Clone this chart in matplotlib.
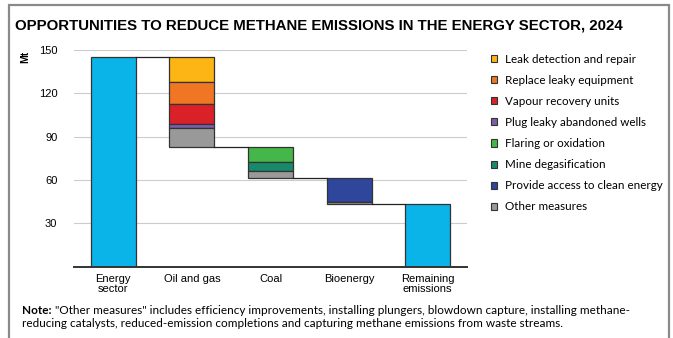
import matplotlib.pyplot as plt
from matplotlib.patches import Patch

# Methane abatement by sector, Mt
categories = ['Energy\nsector', 'Oil and gas', 'Coal', 'Bioenergy', 'Remaining\nemissions']
energy_total = 145
measures = ['Leak detection and repair', 'Replace leaky equipment', 'Vapour recovery units',
            'Plug leaky abandoned wells', 'Flaring or oxidation', 'Mine degasification',
            'Provide access to clean energy', 'Other measures']
colors = ['#FDB515', '#F07623', '#DA2128', '#7B5EA7', '#45B649', '#168A6B', '#2E469B', '#999999']
oil_gas = [17, 15.5, 14, 2.8, 0, 0, 0, 12.8]
coal = [0, 0, 0, 0, 10.3, 6.5, 0, 5]
bioenergy = [0, 0, 0, 0, 0, 0, 16.4, 1.6]

total_color = '#0BB4E8'
edge = '#333333'
width = 0.575

fig = plt.figure(figsize=(6.73, 3.38), dpi=100)
ax = fig.add_axes([74 / 673, 1 - 266.7 / 338, 393 / 673, 216.7 / 338])

# frame around the whole graphic
fig.patches.append(plt.Rectangle((9 / 673, -0.05), 660 / 673, 1 - 5 / 338 + 0.05,
                                 transform=fig.transFigure, fill=False,
                                 edgecolor='#8a8a8a', linewidth=1.6))

level = energy_total
ax.bar(0, energy_total, width, color=total_color, edgecolor=edge, linewidth=0.9, zorder=3)
levels = [level]
for i, sector in enumerate([oil_gas, coal, bioenergy], start=1):
    top = level
    for value, c in zip(sector, colors):
        if value == 0:
            continue
        ax.bar(i, value, width, bottom=top - value, color=c, edgecolor=edge,
               linewidth=0.9, zorder=3)
        top -= value
    level = top
    levels.append(level)
remaining = level
ax.bar(4, remaining, width, color=total_color, edgecolor=edge, linewidth=0.9, zorder=3)

# connectors between consecutive bars
for i, lv in enumerate(levels):
    ax.plot([i + width / 2, i + 1 - width / 2], [lv, lv], color='#222222', lw=0.9, zorder=3)

ax.set_xlim(-0.5, 4.5)
ax.set_ylim(0, 150)
ax.set_yticks([30, 60, 90, 120, 150])
ax.set_xticks(range(5))
ax.set_xticklabels(categories, family='Liberation Sans', fontsize=8, linespacing=1.1)
ax.tick_params(axis='y', length=0, pad=12, labelsize=8)
ax.tick_params(axis='x', length=0, pad=5)
for lab in ax.get_yticklabels():
    lab.set_family('Liberation Sans')
ax.grid(axis='y', color='#cccccc', lw=0.8, zorder=0)
for s in ['top', 'right', 'left']:
    ax.spines[s].set_visible(False)
ax.spines['bottom'].set_color('#333333')
ax.spines['bottom'].set_linewidth(1.4)
ax.spines['bottom'].set_zorder(4)

fig.text(25 / 673, 1 - 57 / 338, 'Mt', rotation=90, ha='center', va='center',
         family='Liberation Sans', fontsize=7.5, fontweight='bold')

fig.text(15 / 673, 1 - 29.5 / 338,
         'OPPORTUNITIES TO REDUCE METHANE EMISSIONS IN THE ENERGY SECTOR, 2024',
         family='Liberation Sans', fontweight='bold',
         fontsize=10.8, va='baseline', ha='left')

handles = [Patch(facecolor=c, edgecolor=edge, linewidth=0.8) for c in colors]
fig.legend(handles, measures, loc='upper left', bbox_to_anchor=(490.5 / 673, 1 - 54 / 338),
           frameon=False, prop={'family': 'Lato', 'size': 8.4},
           handlelength=0.55, handleheight=0.55, handletextpad=0.7,
           labelspacing=0.86, borderaxespad=0, borderpad=0)

note = fig.text(22 / 673, 1 - 314 / 338, 'Note:', family='Lato', fontweight='bold',
                fontsize=8.5, va='baseline', ha='left')
ax.annotate(' "Other measures" includes efficiency improvements, installing plungers, '
            'blowdown capture, installing methane-',
            xy=(1, 0), xycoords=note, va='bottom', ha='left',
            family='Lato', fontsize=8.5, annotation_clip=False)
fig.text(22 / 673, 1 - 327 / 338,
         'reducing catalysts, reduced-emission completions and capturing methane '
         'emissions from waste streams.',
         family='Lato', fontsize=8.5, va='baseline', ha='left')

fig.savefig('out.png', dpi=100)
